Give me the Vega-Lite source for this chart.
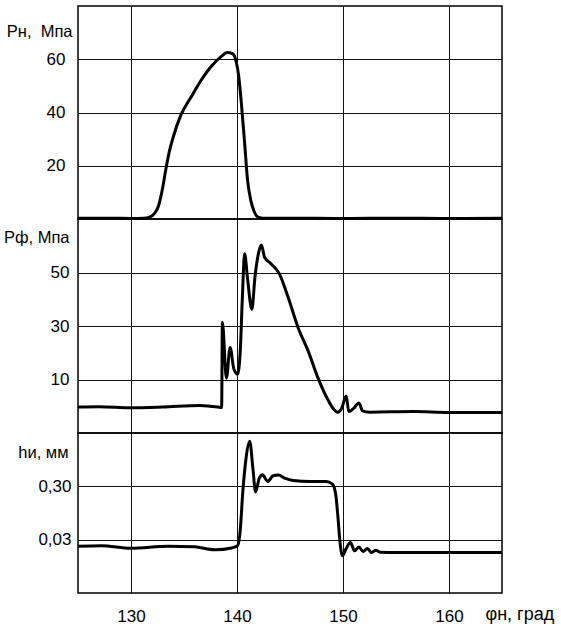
{
  "$schema": "https://vega.github.io/schema/vega-lite/v6.json",
  "padding": {"left": 2, "top": 5, "right": 0, "bottom": 0},
  "spacing": 0,
  "bounds": "flush",
  "background": "white",
  "config": {
    "view": {"stroke": "#000", "strokeWidth": 1.5},
    "axis": {
      "labelFont": "Liberation Sans",
      "titleFont": "Liberation Sans",
      "labelColor": "#000",
      "titleColor": "#000",
      "gridColor": "#111",
      "gridWidth": 1,
      "gridOpacity": 1,
      "domain": false,
      "ticks": false,
      "tickSize": 0,
      "labelFontSize": 17,
      "titleFontSize": 16.5,
      "titleFontWeight": "normal"
    }
  },
  "resolve": {"scale": {"x": "independent", "y": "independent"}},
  "datasets": {
    "pn": [
      {"phi": 125, "v": 0.3}, {"phi": 128, "v": 0.3}, {"phi": 130, "v": 0.2},
      {"phi": 131.2, "v": 0.3}, {"phi": 131.7, "v": 0.6}, {"phi": 132.2, "v": 2},
      {"phi": 132.6, "v": 5}, {"phi": 133.0, "v": 12}, {"phi": 133.3, "v": 19},
      {"phi": 133.6, "v": 25}, {"phi": 134.0, "v": 31}, {"phi": 134.7, "v": 39},
      {"phi": 135.7, "v": 46}, {"phi": 136.6, "v": 52}, {"phi": 137.5, "v": 57},
      {"phi": 138.5, "v": 61}, {"phi": 139.1, "v": 62.5}, {"phi": 139.6, "v": 62},
      {"phi": 139.9, "v": 59.5}, {"phi": 140.15, "v": 54}, {"phi": 140.4, "v": 44},
      {"phi": 140.7, "v": 29.5}, {"phi": 141.0, "v": 14.5}, {"phi": 141.3, "v": 7},
      {"phi": 141.6, "v": 3}, {"phi": 142.0, "v": 0.7}, {"phi": 142.5, "v": 0.3},
      {"phi": 145, "v": 0.3}, {"phi": 150, "v": 0.2}, {"phi": 155, "v": 0.3},
      {"phi": 160, "v": 0.2}, {"phi": 165, "v": 0.3}
    ],
    "pf": [
      {"phi": 125, "v": -0.3}, {"phi": 127, "v": -0.2}, {"phi": 130, "v": -0.6},
      {"phi": 133, "v": -0.3}, {"phi": 136.5, "v": 0.3}, {"phi": 138.2, "v": -0.3},
      {"phi": 138.55, "v": -0.5}, {"phi": 138.62, "v": 31.4}, {"phi": 139.0, "v": 10.5},
      {"phi": 139.35, "v": 22}, {"phi": 139.7, "v": 14}, {"phi": 140.05, "v": 12},
      {"phi": 140.3, "v": 20}, {"phi": 140.5, "v": 40}, {"phi": 140.72, "v": 57},
      {"phi": 141.0, "v": 47.5}, {"phi": 141.4, "v": 36.2}, {"phi": 141.7, "v": 48.5},
      {"phi": 142.05, "v": 57.6}, {"phi": 142.3, "v": 60.3}, {"phi": 142.6, "v": 55.7},
      {"phi": 143.2, "v": 53.3}, {"phi": 144.0, "v": 49.5}, {"phi": 144.8, "v": 41},
      {"phi": 145.8, "v": 29}, {"phi": 146.7, "v": 20.8}, {"phi": 147.6, "v": 11},
      {"phi": 148.5, "v": 3}, {"phi": 149.1, "v": -1}, {"phi": 149.5, "v": -2.2},
      {"phi": 149.85, "v": -1}, {"phi": 150.3, "v": 3.8}, {"phi": 150.55, "v": -2},
      {"phi": 151.0, "v": -0.8}, {"phi": 151.5, "v": 1.2}, {"phi": 151.85, "v": -1.7},
      {"phi": 152.5, "v": -2.2}, {"phi": 156.7, "v": -2.0}, {"phi": 160, "v": -2.3},
      {"phi": 165, "v": -2.3}
    ],
    "hi": [
      {"phi": 125, "v": 0.0225}, {"phi": 127.2, "v": 0.0231}, {"phi": 130, "v": 0.0208},
      {"phi": 133.5, "v": 0.0227}, {"phi": 136, "v": 0.022}, {"phi": 137.9, "v": 0.0194},
      {"phi": 139.5, "v": 0.021}, {"phi": 140.06, "v": 0.0232}, {"phi": 140.3, "v": 0.044},
      {"phi": 140.55, "v": 0.24}, {"phi": 140.85, "v": 1.0}, {"phi": 141.2, "v": 2.1},
      {"phi": 141.5, "v": 0.65}, {"phi": 141.75, "v": 0.235}, {"phi": 142.1, "v": 0.427},
      {"phi": 142.4, "v": 0.494}, {"phi": 142.9, "v": 0.371}, {"phi": 143.4, "v": 0.473},
      {"phi": 143.9, "v": 0.49}, {"phi": 144.5, "v": 0.427}, {"phi": 145.3, "v": 0.386},
      {"phi": 146.9, "v": 0.37}, {"phi": 148.4, "v": 0.371}, {"phi": 149.0, "v": 0.33},
      {"phi": 149.3, "v": 0.22}, {"phi": 149.5, "v": 0.09}, {"phi": 149.7, "v": 0.029},
      {"phi": 149.95, "v": 0.015}, {"phi": 150.3, "v": 0.0205}, {"phi": 150.7, "v": 0.0266},
      {"phi": 151.1, "v": 0.0185}, {"phi": 151.5, "v": 0.0219}, {"phi": 151.9, "v": 0.018},
      {"phi": 152.3, "v": 0.0205}, {"phi": 152.7, "v": 0.0172}, {"phi": 153.1, "v": 0.019},
      {"phi": 153.5, "v": 0.0175}, {"phi": 155, "v": 0.0172}, {"phi": 160, "v": 0.0172},
      {"phi": 165, "v": 0.0172}
    ]
  },
  "vconcat": [
    {
      "width": 424,
      "height": 213,
      "data": {"name": "pn"},
      "mark": {"type": "line", "interpolate": "monotone", "color": "#000", "strokeWidth": 3},
      "encoding": {
        "x": {"field": "phi", "type": "quantitative",
          "scale": {"domain": [125, 165], "nice": false, "zero": false},
          "axis": {"values": [130, 140, 150, 160], "labels": false, "title": null, "grid": true}},
        "y": {"field": "v", "type": "quantitative",
          "scale": {"domain": [0, 80], "nice": false},
          "axis": {"values": [20, 40, 60], "grid": true, "labelPadding": 13,
            "title": "Pн,\u00a0 Мпа", "titleAngle": 0, "titleAlign": "right", "titleBaseline": "middle",
            "titleX": -6, "titleY": 25}}
      }
    },
    {
      "width": 424,
      "height": 214,
      "data": {"name": "pf"},
      "mark": {"type": "line", "interpolate": "monotone", "color": "#000", "strokeWidth": 3},
      "encoding": {
        "x": {"field": "phi", "type": "quantitative",
          "scale": {"domain": [125, 165], "nice": false, "zero": false},
          "axis": {"values": [130, 140, 150, 160], "labels": false, "title": null, "grid": true}},
        "y": {"field": "v", "type": "quantitative",
          "scale": {"domain": [-10, 70], "nice": false, "zero": false},
          "axis": {"values": [10, 30, 50], "grid": true, "labelPadding": 9,
            "title": "Pф, Мпа", "titleAngle": 0, "titleAlign": "right", "titleBaseline": "middle",
            "titleX": -9, "titleY": 18}}
      }
    },
    {
      "width": 424,
      "height": 160,
      "data": {"name": "hi"},
      "mark": {"type": "line", "interpolate": "monotone", "color": "#000", "strokeWidth": 3},
      "encoding": {
        "x": {"field": "phi", "type": "quantitative",
          "scale": {"domain": [125, 165], "nice": false, "zero": false},
          "axis": {"values": [130, 140, 150, 160], "grid": true, "labelPadding": 15,
            "title": "φн, град", "titleFontSize": 18, "titleAngle": 0, "titleAlign": "left",
            "titleBaseline": "middle", "titleX": 407, "titleY": 21}},
        "y": {"field": "v", "type": "quantitative",
          "scale": {"type": "log", "domain": [0.003, 3], "nice": false},
          "axis": {"values": [0.03, 0.3], "grid": true, "labelPadding": 7,
            "labelExpr": "replace(format(datum.value, '.2f'), '.', ',')",
            "title": "hи, мм", "titleAngle": 0, "titleAlign": "right", "titleBaseline": "middle",
            "titleX": -10, "titleY": 19}}
      }
    }
  ]
}
